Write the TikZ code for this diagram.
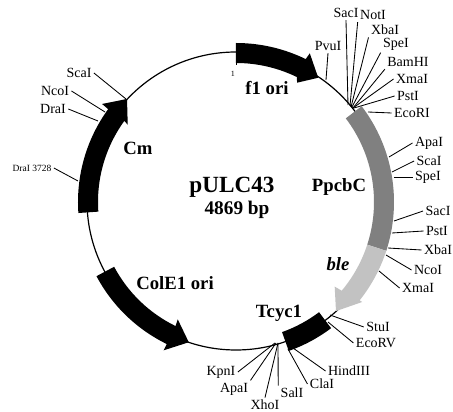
\documentclass[tikz,border=0pt]{standalone}
\usepackage{fontspec}
\setmainfont{Liberation Serif}
\usepackage{tikz}
\definecolor{promoter}{gray}{0.5}
\definecolor{marker}{gray}{0.76}
\tikzset{
  site/.style={inner sep=0.5pt,outer sep=2pt,font=\fontsize{14}{14}\selectfont},
  tick/.style={line width=0.85pt},
  title/.style={inner sep=0pt,font=\bfseries\fontsize{18.7}{19}\selectfont},
}

\begin{document}
\begin{tikzpicture}[x=1pt,y=1pt]
    \useasboundingbox (-236,-210) rectangle (217,202);
    \node[circle,draw,line width=1.2pt,minimum size=298pt,inner sep=0pt,outer sep=0pt] (backbone) at (0,1) {};

    % genes
    \fill (90:159) arc[start angle=90,end angle=64,radius=159pt] -- (63.6:166) -- (56.5:149) -- (62.9:134) -- (64:139) arc[start angle=64,end angle=90,radius=139pt] -- cycle;
    \fill (184:158) arc[start angle=184,end angle=144,radius=158pt] -- (143.8:166) -- (136.6:150) -- (144.5:133) -- (144:138) arc[start angle=144,end angle=184,radius=138pt] -- cycle;
    \fill (208:158) arc[start angle=208,end angle=244,radius=158pt] -- (244:165) -- (251.4:148) -- (243.6:131) -- (244:138) arc[start angle=244,end angle=208,radius=138pt] -- cycle;
    \fill[promoter] (37.3:158) arc[start angle=37.3,end angle=-18,radius=158pt] -- (-18:138) arc[start angle=-18,end angle=37.3,radius=138pt] -- cycle;
    \fill[marker] (-18:158) arc[start angle=-18,end angle=-38.5,radius=158pt] -- (-38.4:161) -- (-47.5:148) -- (-40.6:130) -- (-40:138) arc[start angle=-40,end angle=-18,radius=138pt] -- cycle;
    \fill (-53:158) arc[start angle=-53,end angle=-70.5,radius=158pt] -- (-70.5:138) arc[start angle=-70.5,end angle=-53,radius=138pt] -- cycle;

    % gene names
    \node[title,font=\bfseries\fontsize{23.2}{24}\selectfont] (name) at (-4,15) {pULC43};
    \node[title,font=\bfseries\fontsize{19.3}{20}\selectfont] (size) at (1,-8) {4869 bp};
    \node[title] (f1) at (31,114) {f1 ori};
    \node[title] (cm) at (-98,54) {Cm};
    \node[title] (ppcbc) at (103,15) {PpcbC};
    \node[title,font=\bfseries\itshape\fontsize{18.7}{19}\selectfont] (ble) at (102,-62) {ble};
    \node[title] (cole1) at (-61,-81) {ColE1 ori};
    \node[title] (tcyc1) at (43,-111) {Tcyc1};

    % start of the numbering
    \coordinate (one-a) at (0,139);
    \coordinate (one-b) at (0,137);
    \draw[tick] (one-a) -- (one-b);
    \node[inner sep=0pt,font=\fontsize{8}{8}\selectfont] (one) at (-3,128) {1};

    % sites, clockwise from the top
    \coordinate (pvui-p) at (90,122); \node[site] (pvui) at (92,156) {PvuI}; \draw[tick] (pvui-p) -- (pvui.south);
    \coordinate (saci-p) at (112,97); \node[site] (saci) at (110,189) {SacI}; \draw[tick] (saci-p) -- (saci.south);
    \coordinate (noti-p) at (114,96); \node[site] (noti) at (137,187) {NotI}; \draw[tick] (noti-p) -- (noti.south west);
    \coordinate (xbai-p) at (115,95); \node[site] (xbai) at (149,172) {XbaI}; \draw[tick] (xbai-p) -- (xbai.south west);
    \coordinate (spei-p) at (116,95); \node[site] (spei) at (160,158) {SpeI}; \draw[tick] (spei-p) -- (spei.south west);
    \coordinate (bamhi-p) at (117,94); \node[site] (bamhi) at (172,140) {BamHI}; \draw[tick] (bamhi-p) -- (bamhi.south west);
    \coordinate (xmai-p) at (117,94); \node[site] (xmai) at (176,123) {XmaI}; \draw[tick] (xmai-p) -- (xmai.west);
    \coordinate (psti-p) at (118,94); \node[site] (psti) at (172,106) {PstI}; \draw[tick] (psti-p) -- (psti.west);
    \coordinate (ecori-p) at (132,90); \node[site] (ecori) at (176,89) {EcoRI}; \draw[tick] (ecori-p) -- (ecori.west);

    \coordinate (apai-p) at (153,45); \node[site] (apai) at (193,59) {ApaI}; \draw[tick] (apai-p) -- (apai.west);
    \coordinate (scai-p) at (156,30); \node[site] (scai) at (193,41) {ScaI}; \draw[tick] (scai-p) -- (scai.west);
    \coordinate (spei2-p) at (158,25); \node[site] (spei2) at (192,25) {SpeI}; \draw[tick] (spei2-p) -- (spei2.west);
    \coordinate (saci2-p) at (158,-19); \node[site] (saci2) at (202,-9) {SacI}; \draw[tick] (saci2-p) -- (saci2.west);
    \coordinate (psti2-p) at (156,-31); \node[site] (psti2) at (201,-29) {PstI}; \draw[tick] (psti2-p) -- (psti2.west);
    \coordinate (xbai2-p) at (152,-46); \node[site] (xbai2) at (202,-48) {XbaI}; \draw[tick] (xbai2-p) -- (xbai2.west);
    \coordinate (ncoi-p) at (150,-53); \node[site] (ncoi) at (192,-68) {NcoI}; \draw[tick] (ncoi-p) -- (ncoi.west);
    \coordinate (xmai2-p) at (143,-69); \node[site] (xmai2) at (182,-86) {XmaI}; \draw[tick] (xmai2-p) -- (xmai2.west);

    \coordinate (stui-p) at (94,-113); \node[site] (stui) at (142,-125) {StuI}; \draw[tick] (stui-p) -- (stui.west);
    \coordinate (ecorv-p) at (92,-120); \node[site] (ecorv) at (140,-141) {EcoRV}; \draw[tick] (ecorv-p) -- (ecorv.west);
    \coordinate (hindiii-p) at (57,-146); \node[site] (hindiii) at (113,-169) {HindIII}; \draw[tick] (hindiii-p) -- (hindiii.west);
    \coordinate (clai-p) at (52,-147); \node[site] (clai) at (86,-182) {ClaI}; \draw[tick] (clai-p) -- (clai.west);
    \coordinate (sali-p) at (42,-141); \node[site] (sali) at (56,-191) {SalI}; \draw[tick] (sali-p) -- (sali.north west);
    \coordinate (xhoi-p) at (42,-141); \node[site] (xhoi) at (29,-203) {XhoI}; \draw[tick] (xhoi-p) -- (xhoi.north);
    \coordinate (apai2-p) at (40,-141); \node[site] (apai2) at (-2,-187) {ApaI}; \draw[tick] (apai2-p) -- (apai2.north east);
    \coordinate (kpni-p) at (39,-141); \node[site] (kpni) at (-15,-170) {KpnI}; \draw[tick] (kpni-p) -- (kpni.east);

    \coordinate (drai2-p) at (-158,21); \node[site,font=\fontsize{9.5}{10}\selectfont] (drai2) at (-204,34) {DraI 3728}; \draw[tick] (drai2-p) -- (drai2.east);
    \coordinate (drai-p) at (-138,81); \node[site] (drai) at (-183,93) {DraI}; \draw[tick] (drai-p) -- (drai.east);
    \coordinate (ncoi2-p) at (-131,90); \node[site] (ncoi2) at (-181,111) {NcoI}; \draw[tick] (ncoi2-p) -- (ncoi2.east);
    \coordinate (scai2-p) at (-110,103); \node[site] (scai2) at (-157,129) {ScaI}; \draw[tick] (scai2-p) -- (scai2.east);
  \end{tikzpicture}
\end{document}
